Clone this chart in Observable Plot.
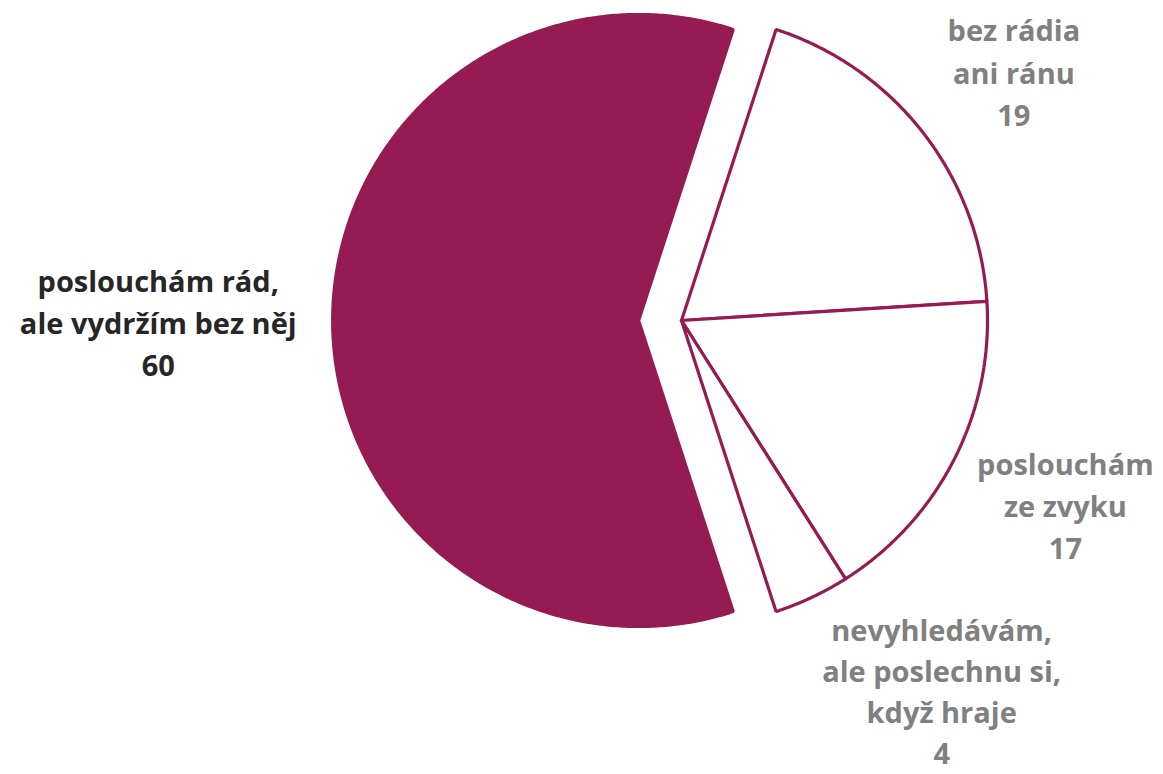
<!DOCTYPE html>
<html>
<head>
<meta charset="utf-8">
<script src="https://cdn.jsdelivr.net/npm/d3@7"></script>
<script src="https://cdn.jsdelivr.net/npm/@observablehq/plot@0.6"></script>
<style>
  html, body { margin: 0; padding: 0; background: #fff; }
  #chart { width: 1163px; height: 774px; }
</style>
</head>
<body>
<div id="chart"></div>
<script>
// ---- data (pie order, clockwise) ----
const categories = [
  "bez rádia\nani ránu",
  "poslouchám\nze zvyku",
  "nevyhledávám,\nale poslechnu si,\nkdyž hraje",
  "poslouchám rád,\nale vydržím bez něj"
];
const values = [19, 17, 4, 60];

// ---- styling / layout ----
const wine = "#961B52";
const startAngleDeg = 18;
const fills = ["#ffffff", "#ffffff", "#ffffff", wine];
const explode = [0, 0, 0, 0.14];           // fraction of radius
const labelColors = ["#808080", "#808080", "#808080", "#262626"];
const labelRadius = [1.36, 1.39, 1.475, 1.71];
const labelAngleShift = [0.8, -1.5, -10, 0]; // degrees
const labelLineHeight = [1.45, 1.45, 1.42, 1.45];

const W = 1163, H = 774, R = 306, CX = 681, CY = 320;

const total = d3.sum(values);
const toRad = Math.PI / 180;
let acc = startAngleDeg * toRad;
const slices = values.map((v, i) => {
  const a0 = acc, a1 = acc + (v / total) * 2 * Math.PI;
  acc = a1;
  const mid = (a0 + a1) / 2;
  return {i, v, a0, a1, mid, cat: categories[i]};
});

const polyPts = [];
slices.forEach(s => {
  const ox = explode[s.i] * Math.sin(s.mid), oy = explode[s.i] * Math.cos(s.mid);
  const pts = [[ox, oy]];
  const n = Math.max(2, Math.ceil((s.a1 - s.a0) / (0.5 * toRad)));
  for (let k = 0; k <= n; k++) {
    const a = s.a0 + (s.a1 - s.a0) * k / n;
    pts.push([ox + Math.sin(a), oy + Math.cos(a)]);
  }
  pts.push([ox, oy]);
  pts.forEach((p, j) => polyPts.push({slice: s.i, j, x: p[0], y: p[1]}));
});

const labels = slices.map(s => {
  const a = s.mid + labelAngleShift[s.i] * toRad;
  const r = labelRadius[s.i];
  return {x: r * Math.sin(a), y: r * Math.cos(a), text: s.cat + "\n" + s.v, color: labelColors[s.i], lh: labelLineHeight[s.i]};
});

const textMarks = labels.map(l => Plot.text([l], {
  x: "x", y: "y", text: "text",
  fill: "color",
  fontSize: 29,
  fontWeight: "bold",
  lineHeight: l.lh,
  lineAnchor: "middle",
  textAnchor: "middle"
}));

const chart = Plot.plot({
  width: W, height: H,
  margin: 0,
  x: {domain: [-CX / R, (W - CX) / R], range: [0, W], axis: null},
  y: {domain: [-(H - CY) / R, CY / R], range: [H, 0], axis: null},
  style: {background: "#fff", fontFamily: "'Open Sans', sans-serif"},
  marks: [
    Plot.line(polyPts, {
      x: "x", y: "y", z: "slice",
      fill: d => fills[d.slice],
      stroke: wine,
      strokeWidth: 3.2,
      strokeLinejoin: "miter",
      curve: "linear"
    }),
    ...textMarks
  ]
});
document.getElementById("chart").appendChild(chart);
</script>
</body>
</html>
